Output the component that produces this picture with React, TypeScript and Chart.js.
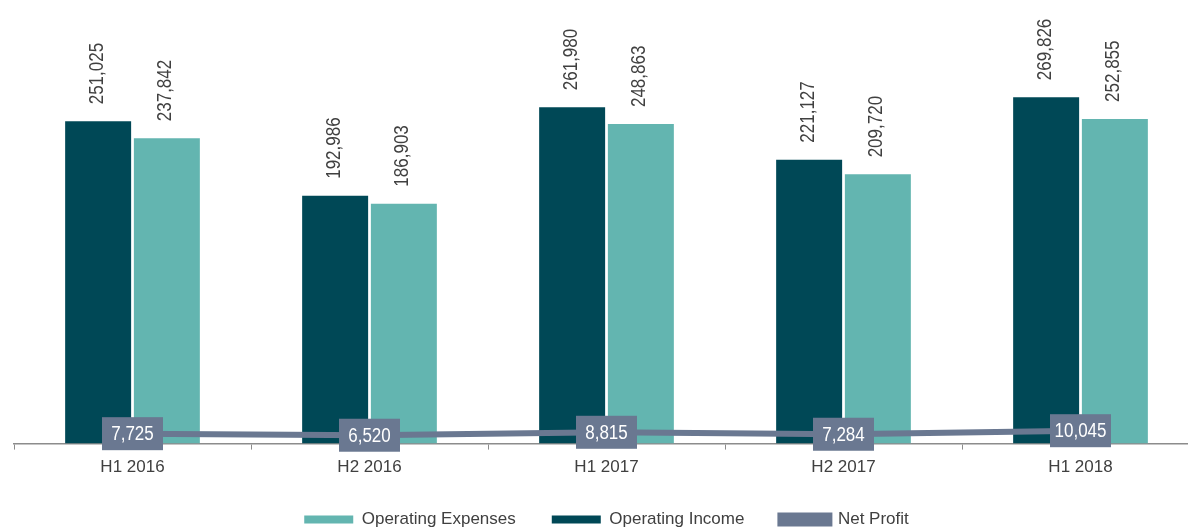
import React, { useEffect, useRef } from "react";
import { Chart, registerables } from "chart.js";

Chart.register(...registerables);

const categories = ["H1 2016", "H2 2016", "H1 2017", "H2 2017", "H1 2018"];
const operatingIncome = [251025, 192986, 261980, 221127, 269826];
const operatingExpenses = [237842, 186903, 248863, 209720, 252855];
const netProfit = [7725, 6520, 8815, 7284, 10045];

const FONT = '"Liberation Sans", Arial, sans-serif';
const TEXT = "#404040";
const DARK = "#004856";
const TEAL = "#63B5B0";
const SLATE = "#6A7891";

const fmt = (v: number) => v.toLocaleString("en-US");

const labelPlugin = {
  id: "valueLabels",
  afterDatasetsDraw(chart: any) {
    const ctx = chart.ctx;
    ctx.save();
    [0, 1].forEach((di) => {
      const meta = chart.getDatasetMeta(di);
      const data = chart.data.datasets[di].data as number[];
      meta.data.forEach((el: any, i: number) => {
        ctx.save();
        ctx.translate(el.x - 1, el.y - 17);
        ctx.rotate(-Math.PI / 2);
        ctx.scale(0.85, 1);
        ctx.font = `20px ${FONT}`;
        ctx.fillStyle = TEXT;
        ctx.textAlign = "left";
        ctx.textBaseline = "middle";
        ctx.fillText(fmt(data[i]), 0, 0);
        ctx.restore();
      });
    });
    const meta = chart.getDatasetMeta(2);
    meta.data.forEach((el: any, i: number) => {
      const w = 61;
      const h = 33;
      ctx.fillStyle = SLATE;
      ctx.fillRect(el.x - w / 2, el.y - h / 2, w, h);
      ctx.save();
      ctx.translate(el.x, el.y + 1);
      ctx.scale(0.85, 1);
      ctx.font = `20px ${FONT}`;
      ctx.fillStyle = "#ffffff";
      ctx.textAlign = "center";
      ctx.textBaseline = "middle";
      ctx.fillText(fmt(netProfit[i]), 0, 0);
      ctx.restore();
    });
    ctx.restore();
  },
};

const legendRank: Record<string, number> = {
  "Operating Expenses": 0,
  "Operating Income": 1,
  "Net Profit": 2,
};

export default function App() {
  const ref = useRef<HTMLCanvasElement | null>(null);
  useEffect(() => {
    if (!ref.current) return;
    const chart = new Chart(ref.current, {
      type: "bar",
      data: {
        labels: categories,
        datasets: [
          {
            label: "Operating Income",
            data: operatingIncome,
            backgroundColor: DARK,
            barPercentage: 0.96,
            categoryPercentage: 0.58,
            order: 1,
          },
          {
            label: "Operating Expenses",
            data: operatingExpenses,
            backgroundColor: TEAL,
            barPercentage: 0.96,
            categoryPercentage: 0.58,
            order: 1,
          },
          {
            type: "line",
            label: "Net Profit",
            data: netProfit,
            borderColor: SLATE,
            backgroundColor: SLATE,
            borderWidth: 6,
            pointRadius: 0,
            tension: 0,
            order: 0,
          } as any,
        ],
      },
      options: {
        responsive: false,
        animation: false,
        layout: { padding: { left: 14, right: 23, top: 0, bottom: 2 } },
        plugins: {
          legend: {
            position: "bottom",
            labels: {
              boxWidth: 49,
              boxHeight: 8,
              padding: 36,
              color: TEXT,
              font: { size: 17, family: FONT },
              sort: (a: any, b: any) => legendRank[a.text] - legendRank[b.text],
            },
          },
          tooltip: { enabled: false },
        },
        scales: {
          x: {
            grid: {
              display: true,
              drawOnChartArea: false,
              drawTicks: true,
              tickLength: 6,
              offset: true,
              color: "#8C8C8C",
            },
            border: { display: true, color: "#8C8C8C", width: 1.5 },
            ticks: {
              color: TEXT,
              font: { size: 17, family: FONT },
              padding: 8,
            },
            afterFit: (scale: any) => {
              scale.height -= 11;
            },
          },
          y: {
            display: false,
            min: 0,
            max: 345500,
          },
        },
      },
      plugins: [labelPlugin],
    });
    return () => chart.destroy();
  }, []);
  return (
    <div
      style={{
        position: "fixed",
        top: 0,
        left: 0,
        width: 1188,
        height: 527,
        overflow: "hidden",
        background: "#fff",
      }}
    >
      <canvas ref={ref} width={1222} height={540} style={{ width: 1222, height: 540, display: "block" }} />
    </div>
  );
}
